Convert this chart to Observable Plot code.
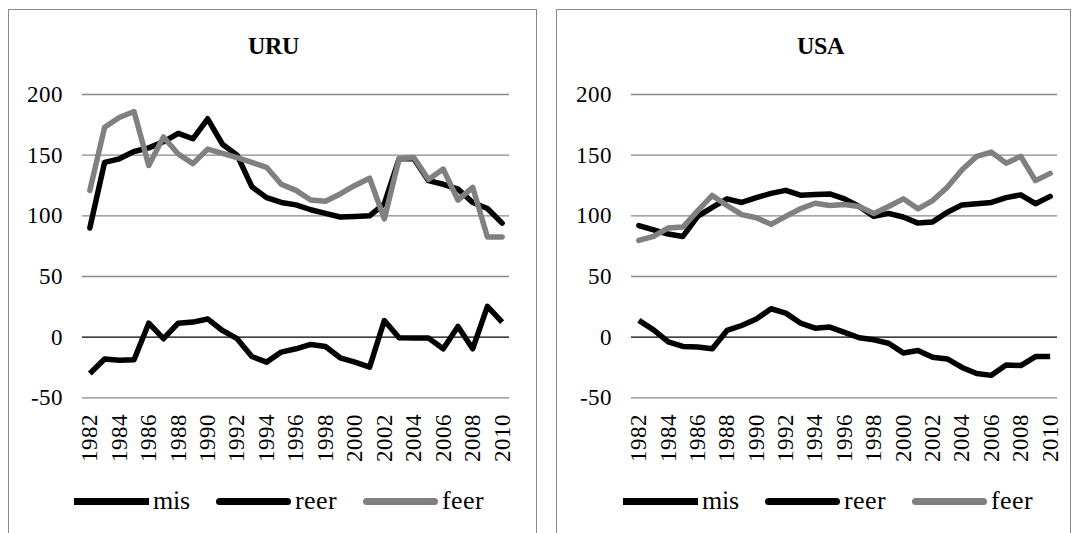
<!DOCTYPE html>
<html>
<head>
<meta charset="utf-8">
<script src="https://cdn.jsdelivr.net/npm/d3@7"></script>
<script src="https://cdn.jsdelivr.net/npm/@observablehq/plot@0.6"></script>
<style>
  @font-face { font-family: "XSerif"; font-weight: 400;
    src: local("Liberation Serif"), local("LiberationSerif"), local("LiberationSerif-Regular"), local("Times New Roman"), local("DejaVu Serif"), local("DejaVuSerif"); }
  @font-face { font-family: "XSerif"; font-weight: 700;
    src: local("Liberation Serif Bold"), local("LiberationSerif-Bold"), local("Times New Roman Bold"), local("DejaVu Serif Bold"), local("DejaVuSerif-Bold"); }
  html, body { margin: 0; padding: 0; background: #fff; }
  #page { position: relative; width: 1076px; height: 533px; overflow: hidden; background: #fff;
          font-family: XSerif, 'Liberation Serif', 'Times New Roman', Times, 'DejaVu Serif', serif; color: #000; }
  #page svg text { font-family: XSerif, 'Liberation Serif', 'Times New Roman', Times, 'DejaVu Serif', serif; }
  .frame { position: absolute; box-sizing: border-box; border: 1.5px solid #888; height: 560px; }
  .title { position: absolute; font-weight: bold; font-size: 24px; transform: translate(-50%, -50%); white-space: nowrap; }
  .plot { position: absolute; top: 0; }
  .legend { position: absolute; display: flex; align-items: center; height: 30px; font-size: 26px; }
  .legend .item { display: flex; align-items: center; margin-right: 26px; }
  .legend .sw { display: inline-block; width: 75px; height: 7px; margin-right: 4px; }
</style>
</head>
<body>
<div id="page"></div>
<script>
// ---- data ----
const years = [1982,1983,1984,1985,1986,1987,1988,1989,1990,1991,1992,1993,1994,1995,1996,1997,1998,1999,2000,2001,2002,2003,2004,2005,2006,2007,2008,2009,2010];
const yearTicks = [1982,1984,1986,1988,1990,1992,1994,1996,1998,2000,2002,2004,2006,2008,2010];
const yTicks = [-50, 0, 50, 100, 150, 200];
const seriesNames = ["mis", "reer", "feer"];
const panelTitles = ["URU", "USA"];

const uruMis  = [-30,-18,-19,-18.7,11.5,-1.3,11.5,12.4,15,5.5,-1.3,-16,-20.6,-12.3,-9.6,-6,-7.7,-17,-20.6,-24.7,13.7,-0.5,-0.8,-0.8,-9.6,8.8,-9.6,25.3,12.4];
const uruReer = [90,144,147,153,156,161,168,163.5,180,159,150,124,115,111,109,105,102,99,99.5,100,110,147,147,129,126,122,111,106,94];
const uruFeer = [121,173,181,186,141.5,165,151,143,155,151.5,148,144,140,126,121,113,112,118,125,131,97.5,147,148,130,138.5,113,123.5,82.5,82.5];

const usaMis  = [13.8,6,-4,-7.7,-8.2,-9.6,5.5,9.6,15,23.4,19.8,11.6,7.4,8.3,4,-0.5,-2.2,-5,-13,-11,-16.5,-18,-25,-30,-31.5,-23,-23.4,-16,-16];
const usaReer = [92,88.5,85,83,99.5,107,114,111,115,118.5,121,117,117.5,118,114,107.7,99.5,102,99,94,95,103,109,110,111,115,117.3,110,116];
const usaFeer = [79.7,83,90,90.7,104,116.8,108.5,101,98.4,93,99.5,105.8,110.4,108.5,109.3,107.7,102,107.7,114,105.8,112.6,123.6,138,149,152.5,143.4,149,129,135];

// ---- styling ----
const styles = {
  mis:  {stroke: "#000000", linecap: "butt",  radius: "0"},
  reer: {stroke: "#000000", linecap: "round", radius: "4px"},
  feer: {stroke: "#808080", linecap: "round", radius: "4px"}
};
const FONT = "XSerif, 'Liberation Serif', 'Times New Roman', Times, 'DejaVu Serif', serif";

const page = document.getElementById("page");

function makePanel(cfg) {
  const frame = document.createElement("div");
  frame.className = "frame";
  frame.style.left = cfg.frameLeft + "px";
  frame.style.top = "9px";
  frame.style.width = cfg.frameWidth + "px";
  page.appendChild(frame);

  const title = document.createElement("div");
  title.className = "title";
  title.textContent = cfg.title;
  title.style.left = cfg.titleX + "px";
  title.style.top = "46px";
  page.appendChild(title);

  const rows = years.map((yr, i) => ({year: yr, mis: cfg.mis[i], reer: cfg.reer[i], feer: cfg.feer[i]}));
  const H = 470;
  const plot = Plot.plot({
    width: cfg.svgWidth,
    height: H,
    marginLeft: cfg.marginLeft,
    marginRight: cfg.marginRight,
    marginTop: 94,
    marginBottom: H - 397.3,
    x: {domain: [1981.5, 2010.5], ticks: yearTicks, tickFormat: d => String(d), tickRotate: -90, tickSize: 0, tickPadding: 16, label: null},
    y: {domain: [-50, 200], ticks: yTicks, tickFormat: d => String(d), tickSize: 0, tickPadding: 20, label: null},
    style: {fontFamily: FONT, fontSize: "23px", color: "#000", background: "transparent", overflow: "visible"},
    marks: [
      Plot.ruleY(yTicks.filter(v => v !== 0), {stroke: "#878787", strokeWidth: 1.3}),
      Plot.ruleY([0], {stroke: "#000", strokeWidth: 1.3}),
      ...seriesNames.map(s => Plot.lineY(rows, {
        x: "year", y: s, stroke: styles[s].stroke, strokeWidth: 5.5,
        strokeLinejoin: "round", strokeLinecap: styles[s].linecap
      }))
    ]
  });
  plot.classList.add("plot");
  plot.style.left = cfg.svgLeft + "px";
  page.appendChild(plot);

  const legend = document.createElement("div");
  legend.className = "legend";
  legend.style.left = cfg.legendLeft + "px";
  legend.style.top = "486px";
  seriesNames.forEach(s => {
    const item = document.createElement("div");
    item.className = "item";
    const sw = document.createElement("span");
    sw.className = "sw";
    sw.style.background = styles[s].stroke;
    sw.style.borderRadius = styles[s].radius;
    const lab = document.createElement("span");
    lab.textContent = s;
    item.appendChild(sw);
    item.appendChild(lab);
    legend.appendChild(item);
  });
  page.appendChild(legend);
}

makePanel({title: panelTitles[0], mis: uruMis, reer: uruReer, feer: uruFeer,
  frameLeft: 8, frameWidth: 529, titleX: 273,
  svgLeft: 0, svgWidth: 537, marginLeft: 82, marginRight: 28, legendLeft: 74});

makePanel({title: panelTitles[1], mis: usaMis, reer: usaReer, feer: usaFeer,
  frameLeft: 556, frameWidth: 515, titleX: 820,
  svgLeft: 536, svgWidth: 535, marginLeft: 95, marginRight: 14, legendLeft: 623});
</script>
</body>
</html>
